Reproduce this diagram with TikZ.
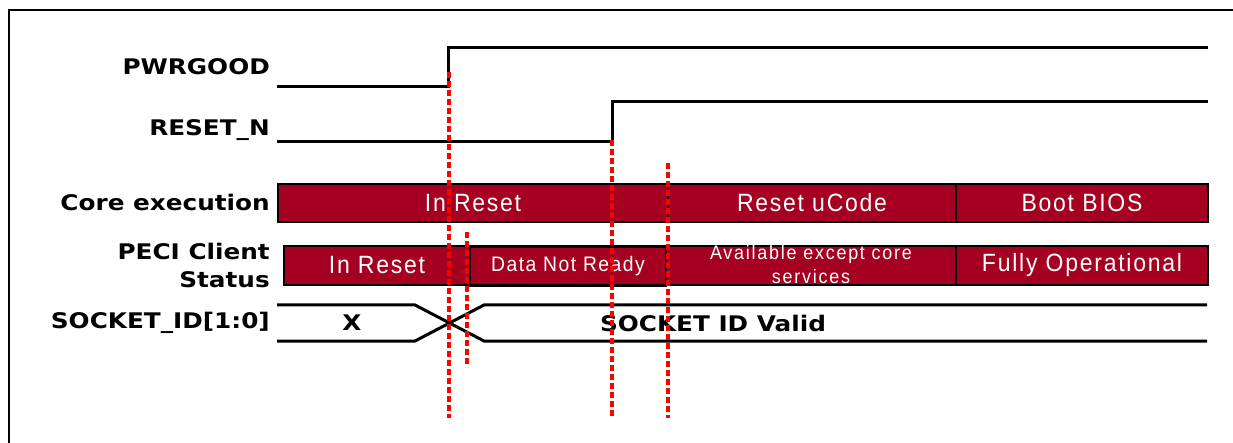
\documentclass[tikz,border=0pt]{standalone}
\usepackage{fontspec}
\newfontfamily\lblfont{DejaVu Sans}[FakeStretch=1.15]
\newfontfamily\barfont{Liberation Sans}[FakeStretch=0.92,LetterSpace=7]
\newfontfamily\barfontw{Liberation Sans}[FakeStretch=0.92,LetterSpace=9]
\definecolor{barred}{RGB}{165,0,33}
\tikzset{
  sig/.style={line width=3pt, line cap=butt},
  frameline/.style={line width=2.2pt},
  boldtxt/.style={inner sep=0pt, font=\lblfont\bfseries\fontsize{21.5}{24}\selectfont},
  lbl/.style={boldtxt, anchor=east},
  cbar/.style={draw=black, line width=2.8pt, fill=barred, text=white, inner sep=0pt, anchor=center},
  bartxt/.style={font=\barfont\fontsize{25}{28}\selectfont},
  smalltxt/.style={font=\barfont\fontsize{21}{24}\selectfont},
  tinytxt/.style={font=\barfontw\fontsize{19.5}{24}\selectfont, align=center},
  redmark/.style={draw=red, line width=3.3pt, dash pattern=on 6pt off 3pt},
}
\begin{document}
\begin{tikzpicture}[x=1pt,y=-1pt]
\useasboundingbox (0,0) rectangle (1233,443);
% frame
\coordinate (fbl) at (9,443);
\coordinate (ftl) at (9,10);
\coordinate (ftr) at (1233,10);
\draw[frameline] (fbl) -- (ftl) -- (ftr);

% labels
\node[lbl] (lpwr) at (270,67) {PWRGOOD};
\node[lbl] (lrst) at (270,130) {RESET\_N};
\node[lbl] (lcore) at (270,202) {Core execution};
\node[lbl] (lpeci1) at (270,251) {PECI Client};
\node[lbl] (lpeci2) at (270,280) {Status};
\node[lbl] (lsock) at (270,323) {SOCKET\_ID[1:0]};

% PWRGOOD waveform
\coordinate (p0) at (277,87);
\coordinate (p1) at (448,87);
\coordinate (p2) at (448,48);
\coordinate (p3) at (1208,48);
\draw[sig] (p0) -- (p1) -- (p2) -- (p3);

% RESET_N waveform
\coordinate (r0) at (277,142);
\coordinate (r1) at (612,142);
\coordinate (r2) at (612,102);
\coordinate (r3) at (1208,102);
\draw[sig] (r0) -- (r1) -- (r2) -- (r3);

% Core execution bar
\node[cbar, minimum width=390pt, minimum height=38pt, bartxt] (c1) at (473,203) {In Reset};
\node[cbar, minimum width=288pt, minimum height=38pt, bartxt] (c2) at (812,203) {Reset uCode};
\node[cbar, minimum width=252pt, minimum height=38pt, bartxt] (c3) at (1082,203) {Boot BIOS};

% PECI Client Status bar
\node[cbar, minimum width=186pt, minimum height=39pt, bartxt] (s1) at (377,265.5) {In Reset};
\node[cbar, minimum width=196pt, minimum height=39pt, smalltxt] (s2) at (568,266) {Data Not Ready};
\node[cbar, minimum width=290pt, minimum height=39pt] (s3) at (811,265.5) {};
\node[tinytxt, text=white, inner sep=0pt] (s3t) at (811,265) {Available except core\\services};
\node[cbar, minimum width=252pt, minimum height=39pt, bartxt] (s4) at (1082,265.5) {Fully Operational};

% SOCKET_ID bus
\coordinate (b0t) at (277,305);
\coordinate (b0b) at (277,341);
\coordinate (b1t) at (415,305);
\coordinate (b1b) at (415,341);
\coordinate (b2t) at (484,305);
\coordinate (b2b) at (484,341);
\coordinate (b3t) at (1207,305);
\coordinate (b3b) at (1207,341);
\draw[sig] (b0t) -- (b1t) -- (b2b) -- (b3b);
\draw[sig] (b0b) -- (b1b) -- (b2t) -- (b3t);
\node[boldtxt] (bx) at (352,323) {X};
\node[boldtxt] (bvalid) at (713,323) {SOCKET ID Valid};

% red dashed markers
\coordinate (m1a) at (449,72);   \coordinate (m1b) at (449,418);
\coordinate (m2a) at (467,232);  \coordinate (m2b) at (467,367);
\coordinate (m3a) at (612,140);  \coordinate (m3b) at (612,418);
\coordinate (m4a) at (668,163);  \coordinate (m4b) at (668,418);
\draw[redmark] (m1a) -- (m1b);
\draw[redmark] (m2a) -- (m2b);
\draw[redmark] (m3a) -- (m3b);
\draw[redmark] (m4a) -- (m4b);
\end{tikzpicture}
\end{document}
